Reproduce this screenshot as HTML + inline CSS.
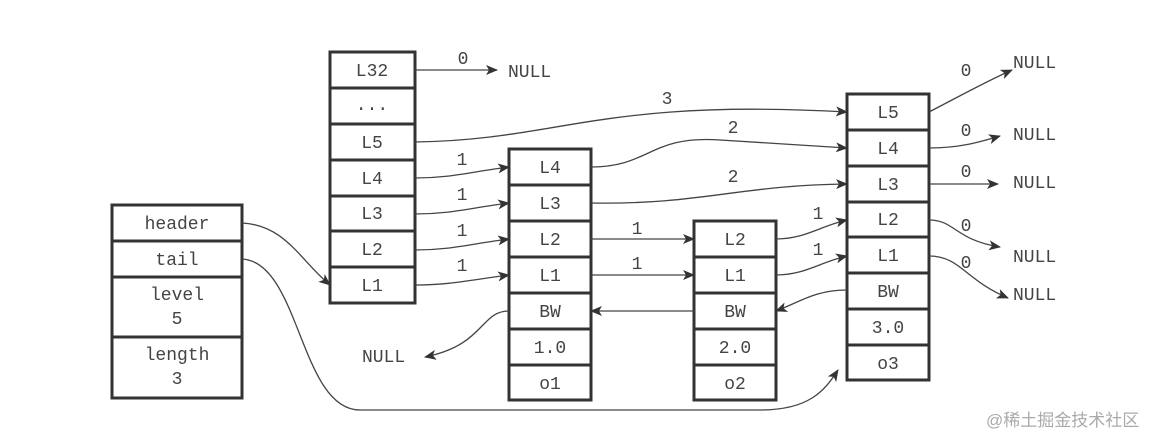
<!DOCTYPE html>
<html><head><meta charset="utf-8"><style>
html,body{margin:0;padding:0;background:#fff;width:1156px;height:436px;overflow:hidden}
svg{display:block}
text{font-family:"Liberation Mono",monospace;font-size:18px;fill:#444}
.b{fill:#fff;stroke:#333;stroke-width:3}
.l{fill:none;stroke:#444;stroke-width:1.3}
</style></head><body>
<svg width="1156" height="436" viewBox="0 0 1156 436">
<defs><marker id="a" viewBox="0 0 12 10" refX="11" refY="5" markerWidth="12" markerHeight="10" markerUnits="userSpaceOnUse" orient="auto"><path d="M0,0 L12,5 L0,10 L3,5 z" fill="#333"/></marker></defs>
<g text-anchor="middle">
<!-- header -->
<rect class="b" x="112" y="205" width="130" height="36"/><text x="177" y="229">header</text>
<rect class="b" x="112" y="241" width="130" height="36"/><text x="177" y="265">tail</text>
<rect class="b" x="112" y="277" width="130" height="60"/><text x="177" y="300">level</text><text x="177" y="324">5</text>
<rect class="b" x="112" y="337" width="130" height="61"/><text x="177" y="360">length</text><text x="177" y="384">3</text>
<!-- L32 column -->
<rect class="b" x="330" y="52" width="85" height="36"/><text x="372" y="76">L32</text>
<rect class="b" x="330" y="88" width="85" height="36"/><text x="372" y="110">...</text>
<rect class="b" x="330" y="124" width="85" height="36"/><text x="372" y="148">L5</text>
<rect class="b" x="330" y="160" width="85" height="36"/><text x="372" y="184">L4</text>
<rect class="b" x="330" y="196" width="85" height="35"/><text x="372" y="219">L3</text>
<rect class="b" x="330" y="231" width="85" height="36"/><text x="372" y="255">L2</text>
<rect class="b" x="330" y="267" width="85" height="36"/><text x="372" y="291">L1</text>
<!-- node1 -->
<rect class="b" x="509" y="149" width="82" height="36"/><text x="550" y="173">L4</text>
<rect class="b" x="509" y="185" width="82" height="36"/><text x="550" y="209">L3</text>
<rect class="b" x="509" y="221" width="82" height="36"/><text x="550" y="245">L2</text>
<rect class="b" x="509" y="257" width="82" height="36"/><text x="550" y="281">L1</text>
<rect class="b" x="509" y="293" width="82" height="36"/><text x="550" y="317">BW</text>
<rect class="b" x="509" y="329" width="82" height="36"/><text x="550" y="353">1.0</text>
<rect class="b" x="509" y="365" width="82" height="35"/><text x="550" y="389">o1</text>
<!-- node2 -->
<rect class="b" x="694" y="221" width="82" height="36"/><text x="735" y="245">L2</text>
<rect class="b" x="694" y="257" width="82" height="36"/><text x="735" y="281">L1</text>
<rect class="b" x="694" y="293" width="82" height="36"/><text x="735" y="317">BW</text>
<rect class="b" x="694" y="329" width="82" height="36"/><text x="735" y="353">2.0</text>
<rect class="b" x="694" y="365" width="82" height="35"/><text x="735" y="389">o2</text>
<!-- node3 -->
<rect class="b" x="847" y="94" width="82" height="36"/><text x="888" y="118">L5</text>
<rect class="b" x="847" y="130" width="82" height="36"/><text x="888" y="154">L4</text>
<rect class="b" x="847" y="166" width="82" height="36"/><text x="888" y="190">L3</text>
<rect class="b" x="847" y="202" width="82" height="35"/><text x="888" y="225">L2</text>
<rect class="b" x="847" y="237" width="82" height="36"/><text x="888" y="261">L1</text>
<rect class="b" x="847" y="273" width="82" height="36"/><text x="888" y="297">BW</text>
<rect class="b" x="847" y="309" width="82" height="36"/><text x="888" y="333">3.0</text>
<rect class="b" x="847" y="345" width="82" height="35"/><text x="888" y="369">o3</text>
<!-- labels -->
<text x="463" y="64">0</text>
<text x="667" y="104">3</text>
<text x="733" y="133">2</text><text x="733" y="182">2</text>
<text x="462" y="165">1</text><text x="462" y="200">1</text><text x="462" y="236">1</text><text x="462" y="271">1</text>
<text x="637" y="234">1</text><text x="637" y="269">1</text>
<text x="818" y="219">1</text><text x="818" y="255">1</text>
<text x="966" y="76">0</text><text x="966" y="136">0</text><text x="966" y="177">0</text><text x="966" y="231">0</text><text x="966" y="268">0</text>
</g>
<text x="508" y="77">NULL</text>
<text x="362" y="362">NULL</text>
<text x="1013" y="68">NULL</text>
<text x="1013" y="140">NULL</text>
<text x="1013" y="188">NULL</text>
<text x="1013" y="262">NULL</text>
<text x="1013" y="300">NULL</text>
<text x="986" y="426" style="font-family:'Liberation Sans','Noto Sans CJK SC',sans-serif;font-size:17px;fill:#aaa">@稀土掘金技术社区</text>
<!-- connectors -->
<path class="l" marker-end="url(#a)" d="M415,70 L497,70"/>
<path class="l" marker-end="url(#a)" d="M415,142 C560,140 600,98 847,112"/>
<path class="l" marker-end="url(#a)" d="M415,178 C450,178 470,172 509,167"/>
<path class="l" marker-end="url(#a)" d="M415,214 C450,214 470,208 509,203"/>
<path class="l" marker-end="url(#a)" d="M415,250 C450,250 470,244 509,239"/>
<path class="l" marker-end="url(#a)" d="M415,285 C450,285 470,280 509,275"/>
<path class="l" marker-end="url(#a)" d="M591,167 C650,167 650,135 720,140 L847,148"/>
<path class="l" marker-end="url(#a)" d="M591,203 C700,205 740,185 847,184"/>
<path class="l" marker-end="url(#a)" d="M591,239 L694,239"/>
<path class="l" marker-end="url(#a)" d="M591,275 L694,275"/>
<path class="l" marker-end="url(#a)" d="M776,239 C805,239 820,226 847,220"/>
<path class="l" marker-end="url(#a)" d="M776,275 C805,275 820,262 847,256"/>
<path class="l" marker-end="url(#a)" d="M694,311 L591,311"/>
<path class="l" marker-end="url(#a)" d="M847,290 C815,290 800,302 776,311"/>
<path class="l" marker-end="url(#a)" d="M509,311 C480,311 485,345 425,357"/>
<path class="l" marker-end="url(#a)" d="M242,223 C285,225 300,260 330,285"/>
<path class="l" marker-end="url(#a)" d="M242,259 C300,262 300,410 360,410 L760,410 C810,410 825,390 838,370"/>
<path class="l" marker-end="url(#a)" d="M929,112 C960,96 985,82 1012,70"/>
<path class="l" marker-end="url(#a)" d="M929,148 C960,148 980,142 1000,136"/>
<path class="l" marker-end="url(#a)" d="M929,184 L998,184"/>
<path class="l" marker-end="url(#a)" d="M929,220 C955,220 955,240 1000,247"/>
<path class="l" marker-end="url(#a)" d="M929,256 C960,256 965,280 1008,298"/>
</svg>
</body></html>
